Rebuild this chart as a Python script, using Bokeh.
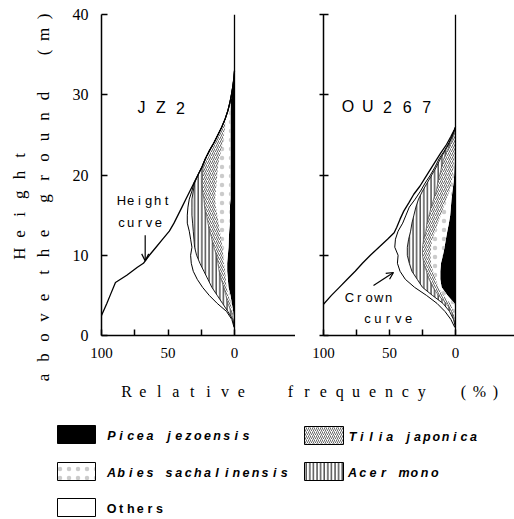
import numpy as np
from bokeh.plotting import figure
from bokeh.layouts import column, row
from bokeh.models import Range1d, FixedTicker, Span, Label, Arrow, OpenHead
from bokeh.core.properties import value
from bokeh.embed import file_html
from bokeh.resources import INLINE

# ------------------------------------------------------------------
# Stand JZ2: relative frequency (%) of crowns of each species by height (m)
# ------------------------------------------------------------------
jz2_height = list(range(1, 34))
jz2_picea = [0, 0.5, 1, 2, 3, 4.5, 5, 5.5, 5.5, 5, 4.5, 4.3, 4, 3.5, 3.5, 3.5, 3, 3, 3, 3,
             3, 3, 3, 3, 3, 3, 3, 3, 2.8, 2.3, 1.3, 0.5, 0]
jz2_abies = [0, 0.3, 0.5, 1, 1.5, 1.5, 1.5, 1.5, 2.5, 3.5, 4.5, 5.7, 7, 8.5, 9.5, 10.5, 11.5, 11, 10.5, 10,
             9.5, 8.5, 7, 6, 5, 4, 4, 2, 0.7, 0, 0, 0, 0]
jz2_tilia = [0, 0.2, 1, 2, 2, 2, 3.5, 4.5, 4.5, 5, 6.5, 7, 7.5, 8, 8, 8.5, 8.5, 10, 10.8, 11,
             11, 10.5, 9, 6.5, 4.5, 2.5, 0, 0, 0, 0, 0, 0, 0]
jz2_acer = [0, 0.3, 2.5, 4, 6.5, 9, 10, 11.5, 13.5, 15, 14.5, 13.5, 12.5, 11.5, 11, 9.5, 9, 7, 5.7, 3.5,
            1, 0, 0, 0, 0, 0, 0, 0, 0, 0, 0, 0, 0]
jz2_others = [0.3, 0.7, 1, 4, 6, 7, 8, 8, 6.5, 4.5, 2, 2.5, 3, 4, 3.5, 3, 2, 1, 0.5, 0,
              0, 0, 0, 0, 0, 0, 0, 0, 0, 0, 0, 0, 0]
# height curve: % of trees taller than a given height
jz2_hc_height = [2.5, 4, 5, 6.6, 7.5, 8.5, 9, 10, 11, 12, 13, 14, 15, 16, 17, 18, 19, 20, 21, 22,
                 23, 24, 25, 26, 27, 28, 29, 30, 31, 32, 33]
jz2_hc_freq = [100, 96, 93.5, 89.5, 81, 73, 68.5, 64, 59, 54, 49, 45.5, 42.5, 39.5, 36.5, 33.5, 30.5, 27.5,
               24.5, 22, 19, 15.5, 12.5, 9.5, 7, 5, 3.5, 2.3, 1.3, 0.5, 0]

# ------------------------------------------------------------------
# Stand OU267
# ------------------------------------------------------------------
ou_height = list(range(1, 27))
ou_picea = [0, 0, 0, 0.7, 6, 10.5, 11.5, 11.5, 11, 9.5, 8.3, 7.3, 6.2, 5, 4, 3.5, 3, 2.3, 1.5, 1,
            0.8, 0.5, 0.2, 0, 0, 0]
ou_abies = [0, 0.5, 1.5, 3.3, 3, 2.5, 3.5, 5.5, 7.5, 9.5, 10.2, 10.2, 9.3, 8.5, 7, 5.5, 4, 2.2, 1.5, 1.2,
            0.7, 0.5, 0.3, 0, 0, 0]
ou_tilia = [0, 0.5, 1.5, 3, 4, 4, 5, 5, 5.5, 6, 6.5, 6.5, 7, 8, 9, 9.5, 9.5, 10, 10.5, 9.8,
            9, 8, 6, 3.5, 1.2, 0]
ou_acer = [0, 0.5, 1.5, 2.5, 4.5, 8, 9, 11, 11, 11.5, 11.5, 11.5, 11.5, 11.5, 11.5, 11.5, 11.5, 10.5, 8, 6,
           4, 2.5, 1.5, 1, 0.8, 0]
ou_others = [0.5, 2, 3.5, 4.5, 4.5, 6, 9, 9, 9, 7, 9.5, 10, 9.5, 7, 6, 5, 2.5, 1.5, 1.5, 1,
             1, 1, 0.5, 0.5, 0.3, 0]
ou_hc_height = [3.9, 5, 6, 7, 8, 9, 10, 11, 12, 12.8, 13.5, 14.5, 15.5, 16.5, 17.6, 18.6, 19.7, 20.7,
                21.7, 22.8, 23.8, 24.8, 25.9]
ou_hc_freq = [100, 94, 88, 82, 76, 70.5, 64.5, 58, 51.5, 46.5, 44.5, 42, 39.2, 35.5, 31.6, 27, 22.8, 19,
              15.2, 11, 6.8, 3.5, 0]

species = ["Picea jezoensis", "Abies sachalinensis", "Tilia japonica", "Acer mono", "Others"]
x_ticks = [100, 50, 0]
x_minor_ticks = [75, 25]
y_ticks = [0, 10, 20, 30, 40]

# ------------------------------------------------------------------
# fill styles of the species bands
# ------------------------------------------------------------------
STYLE = {
    "Picea jezoensis": dict(fill_color="black"),
    "Abies sachalinensis": dict(fill_color="white", hatch_pattern="dot", hatch_color="#a0a0a0",
                                hatch_scale=9, hatch_weight=0.6, hatch_alpha=0.55),
    "Tilia japonica": dict(fill_color="white", hatch_pattern="right_diagonal_line", hatch_color="#404040",
                           hatch_scale=4.0, hatch_weight=0.8),
    "Acer mono": dict(fill_color="white", hatch_pattern="vertical_line", hatch_color="black",
                      hatch_scale=3.6, hatch_weight=1.0),
    "Others": dict(fill_color="white"),
}

SERIF = "Liberation Serif"
SANS = "Liberation Sans"

PAGE_H = 519
ROW_H = 383
TOP, BOTTOM = 14, 48
Y_SCALE = (ROW_H - TOP - BOTTOM) / 40.0      # px per metre
TITLE_W = 55                                  # strip holding the vertical axis title


def make_converter(fig_x0, frame_left, x_scale):
    """page pixel position -> data coordinates of a panel"""
    def conv(px, py):
        return 100 - (px - fig_x0 - frame_left) / x_scale, 40 - (py - TOP) / Y_SCALE
    return conv


def spaced(p, conv, text, px0, py0, dpx, dpy=0.0, **style):
    """letter-spaced text, one Label per character"""
    for i, ch in enumerate(text):
        if ch.strip():
            x, y = conv(px0 + i * dpx, py0 + i * dpy)
            p.add_layout(Label(x=x, y=y, text=ch, text_align="center",
                               text_baseline="middle", **style))


def style_blank(p):
    p.grid.visible = False
    p.outline_line_color = None
    p.background_fill_color = "white"
    p.border_fill_color = "white"


def panel(width, frame_left, x_scale, heights, bands, hc_height, hc_freq, left_labels):
    frame_w = width - frame_left
    p = figure(width=width, height=ROW_H, x_range=Range1d(100, 100 - frame_w / x_scale),
               y_range=Range1d(0, 40), output_backend="svg", toolbar_location=None,
               min_border_left=frame_left, min_border_right=0, min_border_top=TOP,
               min_border_bottom=BOTTOM)
    style_blank(p)

    # stacked species bands, measured leftwards from the 0 line
    y = np.array(heights, dtype=float)
    base = np.zeros_like(y)
    edges = {}
    for name, vals in zip(species, bands):
        top = base + np.array(vals, dtype=float)
        p.harea(x1=base, x2=top, y=y, **STYLE[name])
        edges[name] = top
        base = top

    p.line(edges["Tilia japonica"], y, line_color="#333333", line_width=0.6)
    p.line(edges["Acer mono"], y, line_color="black", line_width=0.9)
    p.line(edges["Others"], y, line_color="black", line_width=1.0)   # crown curve
    p.line(hc_freq, hc_height, line_color="black", line_width=1.3)   # height curve

    p.add_layout(Span(location=0, dimension="height", line_color="black", line_width=1.3))

    xa = p.xaxis[0]
    xa.ticker = FixedTicker(ticks=x_ticks, minor_ticks=x_minor_ticks)
    xa.axis_line_width = 1.5
    xa.major_tick_line_width = 1.5
    xa.minor_tick_line_width = 1.5
    xa.major_tick_in, xa.major_tick_out = 6, 0
    xa.minor_tick_in, xa.minor_tick_out = 6, 0
    xa.major_label_standoff = 12
    xa.major_label_text_font = SERIF
    xa.major_label_text_font_size = "15px"
    xa.major_label_text_color = "black"

    ya = p.yaxis[0]
    ya.ticker = FixedTicker(ticks=y_ticks)
    ya.axis_line_width = 1.5
    ya.major_tick_line_width = 1.5
    ya.minor_tick_line_color = None
    ya.major_label_text_font = SERIF
    ya.major_label_text_font_size = "16px"
    ya.major_label_text_color = "black"
    if left_labels:
        ya.major_tick_in, ya.major_tick_out = 6, 0
        ya.major_label_standoff = 13
    else:
        ya.major_tick_in, ya.major_tick_out = 5, 4
        ya.major_label_overrides = {t: "" for t in y_ticks}
    return p


# ---------------- vertical axis title strip (full page height) ----------------
pt = figure(width=TITLE_W, height=PAGE_H, x_range=Range1d(0, TITLE_W), y_range=Range1d(PAGE_H, 0),
            output_backend="svg", toolbar_location=None, x_axis_location=None,
            y_axis_location=None, min_border=0)
style_blank(pt)


def vertical_text(text, px, py0, step):
    ys, chars = [], []
    for i, ch in enumerate(text):
        if ch.strip():
            ys.append(py0 + i * step)
            chars.append(ch)
    pt.text(x=[px] * len(chars), y=ys, text=chars, angle=np.pi / 2, text_font=value(SERIF),
            text_font_size="17px", text_align="center", text_baseline="middle", text_color="black")


vertical_text("Height", 19, 253, -19.6)
vertical_text("above", 43, 377, -20)
vertical_text("the", 43, 272, -19.5)
vertical_text("ground", 43, 198, -20.5)
vertical_text("(m)", 43, 52, -18)

# ---------------- left panel: JZ2 ----------------
L_X0, L_FRAME, L_SCALE = TITLE_W, 101 - TITLE_W, 1.33
pl = panel(295 - TITLE_W, L_FRAME, L_SCALE, jz2_height,
           [jz2_picea, jz2_abies, jz2_tilia, jz2_acer, jz2_others],
           jz2_hc_height, jz2_hc_freq, True)
cl = make_converter(L_X0, L_FRAME, L_SCALE)

name_font = dict(text_font=SANS, text_font_size="16px", text_color="black")
note_font = dict(text_font=SANS, text_font_size="13px", text_color="black")
spaced(pl, cl, "JZ2", 141, 107, 19.5, **name_font)
spaced(pl, cl, "Height", 121, 200, 9.0, **note_font)
spaced(pl, cl, "curve", 121, 222, 9.2, **note_font)

# arrow pointing at the height curve
arrow_h = 9.3
arrow_x = float(np.interp(arrow_h, jz2_hc_height, jz2_hc_freq))
pl.add_layout(Arrow(end=OpenHead(size=7, line_width=1.2), x_start=arrow_x, y_start=arrow_h + 3.2,
                    x_end=arrow_x, y_end=arrow_h, line_width=1.2))

# ---------------- right panel: OU267 ----------------
R_X0, R_FRAME, R_SCALE = 295, 28, 1.32
pr = panel(514 - R_X0, R_FRAME, R_SCALE, ou_height,
           [ou_picea, ou_abies, ou_tilia, ou_acer, ou_others],
           ou_hc_height, ou_hc_freq, False)
cr = make_converter(R_X0, R_FRAME, R_SCALE)
spaced(pr, cr, "OU267", 347.5, 106, 19.7, **name_font)
spaced(pr, cr, "Crown", 349, 297, 9.75, **note_font)
spaced(pr, cr, "curve", 367, 318, 10.25, **note_font)
(tx, ty), (hx, hy) = cr(373, 285), cr(393, 272)
pr.add_layout(Arrow(end=OpenHead(size=7, line_width=1.2), x_start=tx, y_start=ty,
                    x_end=hx, y_end=hy, line_width=1.2))

# ---------------- bottom strip: axis title and legend ----------------
B_H = PAGE_H - ROW_H
pb = figure(width=514 - TITLE_W, height=B_H, x_range=Range1d(TITLE_W, 514), y_range=Range1d(B_H, 0),
            output_backend="svg", toolbar_location=None, x_axis_location=None,
            y_axis_location=None, min_border=0)
style_blank(pb)


def strip_text(text, x0, y0, step, font, size, style="normal"):
    xs, ys, chars = [], [], []
    for i, ch in enumerate(text):
        if ch.strip():
            xs.append(x0 + i * step)
            ys.append(y0)
            chars.append(ch)
    pb.text(x=xs, y=ys, text=chars, text_font=value(font), text_font_size=size,
            text_font_style=style, text_align="center", text_baseline="middle", text_color="black")


strip_text("Relative", 126, 8, 16.4, SERIF, "16px")
strip_text("frequency", 290, 8, 16.4, SERIF, "16px")
strip_text("(%)", 463, 8, 16, SERIF, "16px")

# legend: (species, box left, box top, text step)
legend_layout = [
    ("Picea jezoensis", 57, 42, 9.6),
    ("Abies sachalinensis", 57, 79, 9.6),
    ("Others", 57, 115, 9.6),
    ("Tilia japonica", 304, 43, 9.3),
    ("Acer mono", 304, 79, 10.3),
]
for name, bx, by, step in legend_layout:
    bw = 38 if bx < 100 else 39
    pb.quad(left=[bx], right=[bx + bw], top=[by], bottom=[by + 18],
            line_color="black", line_width=1, **STYLE[name])
    style = "bold" if name == "Others" else "bold italic"
    strip_text(name, bx + 54 if bx < 100 else bx + 48, by + 10, step, SANS, "12.5px", style)

layout = row(pt, column(row(pl, pr), pb))
open("out.html", "w").write(file_html(layout, INLINE))
